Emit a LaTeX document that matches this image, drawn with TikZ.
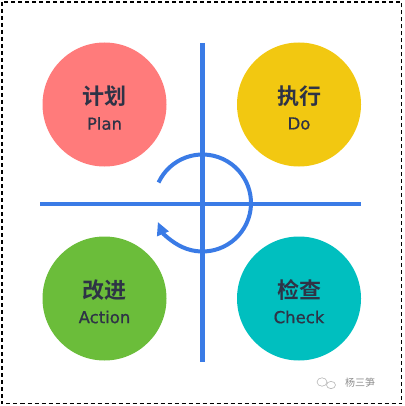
\documentclass[tikz,border=0pt]{standalone}
\usepackage{fontspec}
\setmainfont{DejaVu Sans}
\newfontfamily\enf[FakeBold=0.7]{DejaVu Sans}
\newfontfamily\cjk{Noto Sans CJK SC}
\newfontfamily\cjkb{Noto Sans CJK SC Bold}
\usetikzlibrary{arrows.meta}
\definecolor{txt}{HTML}{2E3346}
\definecolor{plan}{HTML}{FF7B7B}
\definecolor{do}{HTML}{F2C811}
\definecolor{act}{HTML}{6BBD3A}
\definecolor{chk}{HTML}{00BFBF}
\definecolor{axis}{HTML}{3A7BE6}
\tikzset{
  blob/.style={circle, minimum size=124pt, inner sep=0pt},
  cn/.style={font=\cjkb\fontsize{22}{24}\selectfont, text=txt},
  en/.style={font=\enf\fontsize{16.5}{18}\selectfont, text=txt},
  ax/.style={draw=axis, line width=4.5pt},
}
\begin{document}
\begin{tikzpicture}[x=1pt,y=-1pt]
\useasboundingbox (0,0) rectangle (404,406);
\draw[black, line width=1.1pt, dash pattern=on 4pt off 3pt] (2,2) rectangle (401.5,403.5);
% circles
\node[blob, fill=plan] (plan) at (104.5,104.5) {};
\node[blob, fill=do] (do) at (299,104.5) {};
\node[blob, fill=act] (act) at (104.5,298.5) {};
\node[blob, fill=chk] (chk) at (299,298.5) {};
\node[cn] (plancn) at (104.5,96) {计划};
\node[en] (planen) at (104.5,123.5) {Plan};
\node[cn] (docn) at (299,96) {执行};
\node[en] (doen) at (299,123.5) {Do};
\node[cn] (actcn) at (104.5,290) {改进};
\node[en] (acten) at (104.5,317) {Action};
\node[cn] (chkcn) at (299,290) {检查};
\node[en] (chken) at (299,317) {Check};
% axes
\coordinate (vt) at (202.5,43);
\coordinate (vb) at (202.5,362);
\coordinate (hl) at (40,204);
\coordinate (hr) at (361,204);
\draw[ax] (vt) -- (vb);
\draw[ax] (hl) -- (hr);
% cycle arrow
\coordinate (c) at (202.5,203);
\draw[draw=axis, line width=4pt, -{Triangle[length=13pt,width=12pt]}]
  ([shift={(-155:48.5)}]c) arc[start angle=-155, end angle=157, radius=48.5];
% watermark
\node[font=\cjk\fontsize{10}{11}\selectfont, text=black!45] (wm) at (360,383) {杨三笋};
\draw[black!30, line width=0.6pt] (322,382) ellipse (5pt and 4.2pt);
\draw[black!30, line width=0.6pt] (331,385) ellipse (4.5pt and 3.6pt);
\end{tikzpicture}
\end{document}
